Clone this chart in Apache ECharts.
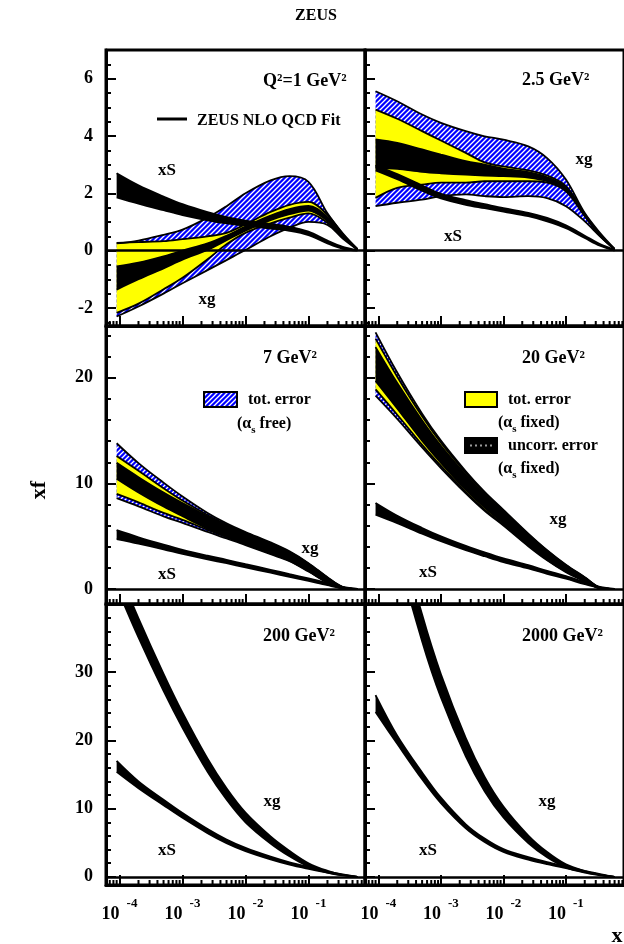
<!DOCTYPE html>
<html>
<head>
<meta charset="utf-8">
<script src="https://cdn.jsdelivr.net/npm/echarts@6/dist/echarts.min.js"></script>
<style>
html,body{margin:0;padding:0;background:#fff}
#c{width:624px;height:944px}
</style>
</head>
<body>
<div id="c"></div>
<script>
// ---- x grid shared by all curves ----
const X = [9e-5, 2e-4, 5e-4, 1e-3, 2.5e-3, 5e-3, 1e-2, 2.5e-2, 5e-2, 0.1, 0.2, 0.35, 0.6];

// ---- panel titles ----
const Q2_LABELS = ['Q\u00b2=1 GeV\u00b2', '2.5 GeV\u00b2', '7 GeV\u00b2', '20 GeV\u00b2', '200 GeV\u00b2', '2000 GeV\u00b2'];

// ---- Q2 = 1 GeV2 ----
const P1_XG_FREE_HI = [0.25, 0.35, 0.55, 0.73, 1.15, 1.55, 2.0, 2.45, 2.6, 2.4, 1.3, 0.6, 0.05];
const P1_XG_FREE_LO = [-2.3, -1.95, -1.5, -1.14, -0.68, -0.33, 0.02, 0.5, 0.8, 1.0, 0.9, 0.42, 0.03];
const P1_XG_FIX_HI = [0.27, 0.3, 0.33, 0.4, 0.5, 0.62, 0.92, 1.35, 1.6, 1.7, 1.25, 0.58, 0.05];
const P1_XG_FIX_LO = [-2.17, -1.85, -1.35, -0.95, -0.3, 0.22, 0.62, 0.95, 1.15, 1.3, 0.97, 0.47, 0.03];
const P1_XG_UNC_HI = [-0.55, -0.42, -0.2, 0.0, 0.25, 0.52, 0.84, 1.22, 1.45, 1.56, 1.17, 0.55, 0.05];
const P1_XG_UNC_LO = [-1.36, -1.0, -0.62, -0.32, 0.03, 0.36, 0.7, 1.06, 1.27, 1.4, 1.03, 0.5, 0.04];
const P1_XS_HI = [2.7, 2.28, 1.89, 1.62, 1.34, 1.17, 1.05, 0.93, 0.83, 0.66, 0.35, 0.135, 0.02];
const P1_XS_LO = [1.86, 1.64, 1.41, 1.24, 1.06, 0.95, 0.87, 0.77, 0.69, 0.54, 0.25, 0.065, 0];

// ---- Q2 = 2.5 GeV2 ----
const P2_XG_FREE_HI = [5.56, 5.21, 4.75, 4.46, 4.17, 3.99, 3.87, 3.64, 3.23, 2.48, 1.31, 0.62, 0.06];
const P2_XG_FREE_LO = [1.55, 1.67, 1.78, 1.9, 1.96, 1.9, 1.87, 1.9, 1.83, 1.55, 1.02, 0.5, 0.04];
const P2_XG_FIX_HI = [4.92, 4.6, 4.17, 3.84, 3.41, 3.08, 2.94, 2.8, 2.62, 2.25, 1.28, 0.58, 0.05];
const P2_XG_FIX_LO = [1.84, 2.19, 2.3, 2.37, 2.37, 2.42, 2.42, 2.42, 2.37, 2.07, 1.2, 0.52, 0.05];
const P2_XG_UNC_HI = [3.88, 3.76, 3.53, 3.35, 3.12, 3.0, 2.86, 2.74, 2.56, 2.2, 1.26, 0.56, 0.05];
const P2_XG_UNC_LO = [2.9, 2.85, 2.75, 2.7, 2.65, 2.62, 2.6, 2.55, 2.42, 2.1, 1.22, 0.53, 0.05];
const P2_XS_HI = [2.98, 2.67, 2.27, 1.98, 1.76, 1.62, 1.48, 1.32, 1.14, 0.88, 0.52, 0.23, 0.03];
const P2_XS_LO = [2.8, 2.49, 2.09, 1.82, 1.6, 1.48, 1.36, 1.2, 1.02, 0.78, 0.44, 0.17, 0];

// ---- Q2 = 7 GeV2 ----
const P3_XG_FREE_HI = [13.8, 11.92, 10.07, 8.76, 7.2, 6.22, 5.4, 4.41, 3.56, 2.45, 1.11, 0.18, 0];
const P3_XG_FREE_LO = [8.6, 7.82, 6.87, 6.26, 5.4, 4.78, 4.16, 3.29, 2.64, 1.65, 0.59, 0.06, 0];
const P3_XG_FIX_HI = [12.6, 11.2, 9.55, 8.38, 7.0, 6.1, 5.31, 4.34, 3.51, 2.4, 1.07, 0.17, 0];
const P3_XG_FIX_LO = [9.0, 8.2, 7.2, 6.55, 5.6, 4.9, 4.25, 3.36, 2.69, 1.7, 0.63, 0.07, 0];
const P3_XG_UNC_HI = [11.95, 10.59, 9.13, 8.13, 6.88, 6.02, 5.26, 4.29, 3.47, 2.37, 1.05, 0.16, 0];
const P3_XG_UNC_LO = [10.45, 9.15, 7.81, 6.89, 5.72, 4.98, 4.3, 3.41, 2.73, 1.73, 0.65, 0.08, 0];
const P3_XS_HI = [5.57, 4.9, 4.2, 3.71, 3.15, 2.76, 2.35, 1.82, 1.41, 1.0, 0.56, 0.2, 0];
const P3_XS_LO = [4.73, 4.3, 3.76, 3.33, 2.81, 2.44, 2.05, 1.54, 1.15, 0.76, 0.36, 0.08, 0];

// ---- Q2 = 20 GeV2 ----
const P4_XG_FREE_HI = [24.3, 20.5, 16.6, 14.05, 11.15, 9.2, 7.5, 5.25, 3.68, 2.3, 1.12, 0.15, 0];
const P4_XG_FREE_LO = [18.3, 16.1, 13.4, 11.45, 9.05, 7.4, 6.0, 4.05, 2.72, 1.6, 0.72, 0.06, 0];
const P4_XG_FIX_HI = [23.7, 20.1, 16.35, 13.85, 11.0, 9.08, 7.4, 5.17, 3.62, 2.25, 1.09, 0.14, 0];
const P4_XG_FIX_LO = [18.9, 16.5, 13.65, 11.65, 9.2, 7.52, 6.1, 4.13, 2.78, 1.65, 0.75, 0.07, 0];
const P4_XG_UNC_HI = [22.9, 19.5, 15.95, 13.55, 10.8, 8.9, 7.27, 5.09, 3.56, 2.21, 1.07, 0.13, 0];
const P4_XG_UNC_LO = [19.7, 17.1, 14.05, 11.95, 9.4, 7.7, 6.23, 4.21, 2.84, 1.69, 0.77, 0.08, 0];
const P4_XS_HI = [8.15, 6.94, 5.78, 4.99, 4.08, 3.46, 2.89, 2.25, 1.72, 1.22, 0.65, 0.2, 0];
const P4_XS_LO = [7.05, 6.24, 5.24, 4.53, 3.68, 3.1, 2.55, 1.95, 1.44, 0.98, 0.45, 0.1, 0];

// ---- Q2 = 200 GeV2 ----
const P5_XG_UNC_HI = [45.5, 37.9, 29.75, 24.05, 17.3, 12.97, 9.4, 5.92, 3.8, 2.0, 0.89, 0.3, 0];
const P5_XG_UNC_LO = [42.5, 35.1, 27.25, 21.85, 15.4, 11.33, 8.0, 4.88, 3.0, 1.5, 0.61, 0.2, 0];
const P5_XS_HI = [17.0, 14.0, 11.3, 9.35, 7.0, 5.47, 4.24, 2.95, 2.12, 1.44, 0.8, 0.35, 0];
const P5_XS_LO = [15.4, 13.0, 10.5, 8.65, 6.4, 4.93, 3.76, 2.55, 1.78, 1.16, 0.6, 0.25, 0];

// ---- Q2 = 2000 GeV2 ----
const P6_XG_UNC_HI = [68.2, 52.1, 38.45, 29.7, 20.35, 14.65, 10.3, 6.05, 3.63, 1.82, 0.84, 0.33, 0];
const P6_XG_UNC_LO = [63.8, 47.9, 34.55, 26.3, 17.65, 12.55, 8.7, 4.95, 2.87, 1.38, 0.6, 0.23, 0];
const P6_XS_HI = [26.65, 20.7, 15.3, 11.6, 7.7, 5.6, 4.05, 2.88, 2.15, 1.52, 0.88, 0.4, 0];
const P6_XS_LO = [24.15, 19.5, 14.3, 10.8, 7.1, 5.1, 3.65, 2.52, 1.85, 1.28, 0.72, 0.3, 0];

// ---- axis ranges ----
const X_MIN = 6.1e-5;
const X_MAX = [0.789, 0.849];
const Y_MIN = [-2.63, -1.42, -1.2];
const Y_MAX = [7.0, 24.9, 40];
const Y_SPLIT = [5, 2, 4];
const Y_MINOR = [4, 5, 5];
const MINOR_MULT = [2, 3, 4, 5, 6, 7, 8, 9];
const DECADES = [1e-5, 1e-4, 1e-3, 1e-2, 1e-1];

// ---- layout ----
const COL_LEFT = [106, 365], COL_W = [259, 261];
const ROW_TOP = [50, 326, 604], ROW_H = [276, 278, 281];
const FONT = '"Liberation Serif","Times New Roman",serif';

const PANELS = [
  {free: [P1_XG_FREE_LO, P1_XG_FREE_HI], fix: [P1_XG_FIX_LO, P1_XG_FIX_HI], unc: [P1_XG_UNC_LO, P1_XG_UNC_HI], xs: [P1_XS_LO, P1_XS_HI]},
  {free: [P2_XG_FREE_LO, P2_XG_FREE_HI], fix: [P2_XG_FIX_LO, P2_XG_FIX_HI], unc: [P2_XG_UNC_LO, P2_XG_UNC_HI], xs: [P2_XS_LO, P2_XS_HI]},
  {free: [P3_XG_FREE_LO, P3_XG_FREE_HI], fix: [P3_XG_FIX_LO, P3_XG_FIX_HI], unc: [P3_XG_UNC_LO, P3_XG_UNC_HI], xs: [P3_XS_LO, P3_XS_HI]},
  {free: [P4_XG_FREE_LO, P4_XG_FREE_HI], fix: [P4_XG_FIX_LO, P4_XG_FIX_HI], unc: [P4_XG_UNC_LO, P4_XG_UNC_HI], xs: [P4_XS_LO, P4_XS_HI]},
  {free: null, fix: null, unc: [P5_XG_UNC_LO, P5_XG_UNC_HI], xs: [P5_XS_LO, P5_XS_HI]},
  {free: null, fix: null, unc: [P6_XG_UNC_LO, P6_XG_UNC_HI], xs: [P6_XS_LO, P6_XS_HI]}
];

// blue / white diagonal hatching for the alpha_s-free error band
function makeHatch() {
  const s = 5;
  const c = document.createElement('canvas');
  c.width = s; c.height = s;
  const g = c.getContext('2d');
  g.fillStyle = '#0000ff';
  g.fillRect(0, 0, s, s);
  g.strokeStyle = '#ffffff';
  g.lineWidth = 1.3;
  g.beginPath();
  g.moveTo(0, s); g.lineTo(s, 0);
  g.moveTo(-1, 1); g.lineTo(1, -1);
  g.moveTo(s - 1, s + 1); g.lineTo(s + 1, s - 1);
  g.stroke();
  return c;
}
const HATCH = {type: 'pattern', image: makeHatch(), repeat: 'repeat'};
const YELLOW = '#ffff00';
const BLACK = '#000000';

let bandId = 0;
// a filled band between lo and hi: base line + stacked difference with area fill
function band(g, lo, hi, fill) {
  const id = 'band' + (bandId++);
  const common = {
    type: 'line', xAxisIndex: g, yAxisIndex: g, stack: id, stackStrategy: 'all',
    dimensions: ['v', 'x'], encode: {x: 1, y: 0},
    symbol: 'none', smooth: 0.35, silent: true, z: 2,
    lineStyle: {color: '#000', width: 1.8}
  };
  return [
    Object.assign({}, common, {data: X.map((x, k) => [lo[k], x])}),
    Object.assign({}, common, {data: X.map((x, k) => [hi[k] - lo[k], x]), areaStyle: {color: fill, opacity: 1}})
  ];
}

const grids = [], xAxes = [], yAxes = [], series = [];

function minorTicksFor(xmax) {
  const out = [];
  DECADES.forEach(d => MINOR_MULT.forEach(m => {
    const v = m * d;
    if (v > X_MIN && v < xmax) out.push([v, 0]);
  }));
  return out;
}

function xLabel(v) {
  const e = Math.log10(v);
  const r = Math.round(e);
  if (Math.abs(e - r) > 1e-6) return '';
  return '{b|10}{s|' + r + '}';
}

for (let p = 0; p < 6; p++) {
  const row = Math.floor(p / 2), col = p % 2;
  grids.push({
    left: COL_LEFT[col], top: ROW_TOP[row], width: COL_W[col], height: ROW_H[row],
    show: true, borderColor: '#000', borderWidth: 3, backgroundColor: 'transparent'
  });
  xAxes.push({
    type: 'log', logBase: 10, gridIndex: p, min: X_MIN, max: X_MAX[col],
    axisLine: {show: true, onZero: false, lineStyle: {color: '#000', width: 3}},
    axisTick: {show: true, inside: true, length: 10, lineStyle: {color: '#000', width: 2}},
    minorTick: {show: false}, splitLine: {show: false}, minorSplitLine: {show: false},
    axisLabel: {
      show: row === 2, margin: 12, formatter: xLabel, showMinLabel: false, showMaxLabel: false,
      rich: {
        b: {fontSize: 18, fontWeight: 'bold', fontFamily: FONT, color: '#000', verticalAlign: 'bottom', lineHeight: 26},
        s: {fontSize: 13, fontWeight: 'bold', fontFamily: FONT, color: '#000', verticalAlign: 'top', lineHeight: 26, padding: [0, 0, 0, 7]}
      }
    }
  });
  yAxes.push({
    type: 'value', gridIndex: p, min: Y_MIN[row], max: Y_MAX[row], splitNumber: Y_SPLIT[row],
    axisLine: {show: true, onZero: false, lineStyle: {color: '#000', width: 3}},
    axisTick: {show: true, inside: true, length: 10, lineStyle: {color: '#000', width: 2}},
    minorTick: {show: true, splitNumber: Y_MINOR[row], length: 5, lineStyle: {color: '#000', width: 2}},
    splitLine: {show: false}, minorSplitLine: {show: false},
    axisLabel: {
      show: col === 0, margin: 13, fontSize: 18, fontWeight: 'bold', fontFamily: FONT, color: '#000',
      showMinLabel: false, showMaxLabel: false
    }
  });

  // zero line
  series.push({
    type: 'line', xAxisIndex: p, yAxisIndex: p, data: [], silent: true, z: 1,
    markLine: {
      silent: true, symbol: 'none', animation: false,
      label: {show: false},
      lineStyle: {color: '#000', width: 2.5, type: 'solid'},
      data: [{yAxis: 0}]
    }
  });

  const P = PANELS[p];
  if (P.free) series.push(...band(p, P.free[0], P.free[1], HATCH));
  if (P.fix) series.push(...band(p, P.fix[0], P.fix[1], YELLOW));
  series.push(...band(p, P.unc[0], P.unc[1], BLACK));
  series.push(...band(p, P.xs[0], P.xs[1], BLACK));

  // logarithmic minor ticks along the bottom axis
  series.push({
    type: 'custom', xAxisIndex: p, yAxisIndex: p, data: minorTicksFor(X_MAX[col]), silent: true, z: 6,
    renderItem: function (params, api) {
      const cs = params.coordSys;
      const px = api.coord([api.value(0), api.value(1)])[0];
      const yb = cs.y + cs.height;
      return {type: 'line', shape: {x1: px, y1: yb, x2: px, y2: yb - 5}, style: {stroke: '#000', lineWidth: 2}};
    }
  });
}

// ---- text and legend graphics ----
function txt(x, y, text, size, align, extra) {
  return Object.assign({
    type: 'text', x: x, y: y, z: 100, silent: true,
    style: {
      text: text, fill: '#000', font: 'bold ' + size + 'px ' + FONT,
      align: align || 'left', verticalAlign: 'middle',
      textAlign: align || 'left', textVerticalAlign: 'middle'
    }
  }, extra || {});
}
function richTxt(x, y, text, size) {
  return {
    type: 'text', x: x, y: y, z: 100, silent: true,
    style: {
      text: text, fill: '#000', font: 'bold ' + size + 'px ' + FONT,
      align: 'left', verticalAlign: 'middle',
      rich: {
        sub: {fontSize: 11, fontWeight: 'bold', fontFamily: FONT, verticalAlign: 'bottom', lineHeight: 24}
      }
    }
  };
}

const LABEL_POS = [[263, 81], [522, 80], [263, 358], [522, 358], [263, 636], [522, 636]];
const graphics = [];
graphics.push(txt(316, 16, 'ZEUS', 16, 'center'));
Q2_LABELS.forEach((t, i) => graphics.push(txt(LABEL_POS[i][0], LABEL_POS[i][1], t, 18, 'left')));

// fit legend
graphics.push({type: 'line', z: 100, silent: true, shape: {x1: 157, y1: 119, x2: 187, y2: 119}, style: {stroke: '#000', lineWidth: 3}});
graphics.push(txt(197, 121, 'ZEUS NLO QCD Fit', 16, 'left'));

// error legends
graphics.push({type: 'rect', z: 100, silent: true, shape: {x: 204, y: 392, width: 33, height: 15}, style: {fill: HATCH, stroke: '#000', lineWidth: 2}});
graphics.push(txt(248, 400, 'tot. error', 16, 'left'));
graphics.push(richTxt(237, 424, '(\u03b1{sub|s} free)', 16));
graphics.push({type: 'rect', z: 100, silent: true, shape: {x: 465, y: 392, width: 32, height: 15}, style: {fill: YELLOW, stroke: '#000', lineWidth: 2}});
graphics.push(txt(508, 400, 'tot. error', 16, 'left'));
graphics.push(richTxt(498, 423, '(\u03b1{sub|s} fixed)', 16));
graphics.push({type: 'rect', z: 100, silent: true, shape: {x: 465, y: 438, width: 32, height: 15}, style: {fill: '#000', stroke: '#000', lineWidth: 2}});
graphics.push({type: 'line', z: 101, silent: true, shape: {x1: 470, y1: 445.5, x2: 493, y2: 445.5}, style: {stroke: '#9a9a9a', lineWidth: 2, lineDash: [2, 3]}});
graphics.push(txt(508, 446, 'uncorr. error', 16, 'left'));
graphics.push(richTxt(498, 469, '(\u03b1{sub|s} fixed)', 16));

// curve names
const CURVE_TAGS = [
  [167, 171, 'xS'], [207, 300, 'xg'],
  [584, 160, 'xg'], [453, 237, 'xS'],
  [310, 549, 'xg'], [167, 575, 'xS'],
  [558, 520, 'xg'], [428, 573, 'xS'],
  [272, 802, 'xg'], [167, 851, 'xS'],
  [547, 802, 'xg'], [428, 851, 'xS']
];
CURVE_TAGS.forEach(t => graphics.push(txt(t[0], t[1], t[2], 17, 'center')));

// axis titles
graphics.push(txt(39, 490, 'xf', 22, 'center', {rotation: Math.PI / 2}));
graphics.push(txt(617, 936, 'x', 22, 'center'));

const chart = echarts.init(document.getElementById('c'), null, {renderer: 'canvas', width: 624, height: 944});
chart.setOption({
  animation: false,
  backgroundColor: '#ffffff',
  grid: grids,
  xAxis: xAxes,
  yAxis: yAxes,
  series: series,
  graphic: graphics
});
</script>
</body>
</html>
